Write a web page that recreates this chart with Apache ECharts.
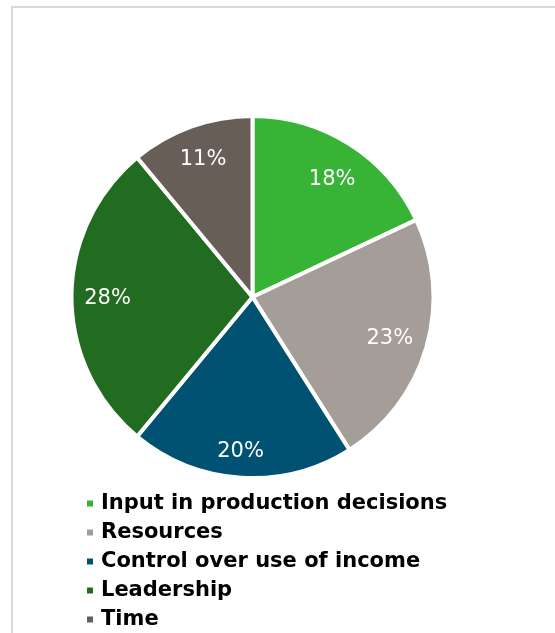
<!DOCTYPE html>
<html>
<head>
<meta charset="utf-8">
<style>
  html, body { margin: 0; padding: 0; background: #ffffff; }
  #chart { width: 555px; height: 633px; }
</style>
<script src="https://cdn.jsdelivr.net/npm/echarts@6/dist/echarts.min.js"></script>
</head>
<body>
<div id="chart"></div>
<script>
// Share of each domain (percent)
const categories = [
  'Input in production decisions',
  'Resources',
  'Control over use of income',
  'Leadership',
  'Time'
];
const shares = [18, 23, 20, 28, 11];
const colors = ['#37b336', '#a59d97', '#015272', '#226c21', '#675e58'];
// small nudges for the percentage labels (best-fit placement)
const labelNudges = [[3, 3], [0, 2], [-3, 12], [-2, 2], [-1, -3]];

const sliceData = categories.map((name, i) => ({
  name,
  value: shares[i],
  itemStyle: { color: colors[i] }
}));

const labelData = categories.map((name, i) => ({
  name,
  value: shares[i],
  label: { offset: labelNudges[i] }
}));

const chart = echarts.init(document.getElementById('chart'), null, { renderer: 'canvas' });

const center = [252.5, 297];

chart.setOption({
  animation: false,
  color: colors,
  graphic: [{
    type: 'rect',
    shape: { x: 12, y: 7, width: 700, height: 800 },
    style: { fill: 'none', stroke: '#d9d9d9', lineWidth: 2 },
    silent: true,
    z: -1
  }],
  legend: {
    orient: 'vertical',
    left: 85,
    top: 493,
    height: 200,
    padding: 0,
    icon: 'rect',
    itemWidth: 8,
    itemHeight: 8,
    itemGap: 8,
    selectedMode: false,
    data: categories,
    textStyle: {
      fontFamily: 'DejaVu Sans',
      fontWeight: 'bold',
      fontSize: 21,
      lineHeight: 21,
      color: '#000000',
      padding: [0, 0, 0, 2]
    }
  },
  series: [
    {
      // coloured slices
      type: 'pie',
      center: center,
      radius: [0, 181],
      startAngle: 90,
      clockwise: true,
      silent: true,
      label: { show: false },
      labelLine: { show: false },
      itemStyle: { borderColor: '#ffffff', borderWidth: 4 },
      data: sliceData
    },
    {
      // percentage labels, placed further out than the slice midpoint
      type: 'pie',
      center: center,
      radius: [0, 280],
      startAngle: 90,
      clockwise: true,
      silent: true,
      legendHoverLink: false,
      itemStyle: { color: 'rgba(0,0,0,0)', borderWidth: 0 },
      label: {
        show: true,
        position: 'inside',
        formatter: '{c}%',
        color: '#ffffff',
        fontFamily: 'DejaVu Sans',
        fontSize: 21
      },
      labelLine: { show: false },
      data: labelData
    }
  ]
});
</script>
</body>
</html>
